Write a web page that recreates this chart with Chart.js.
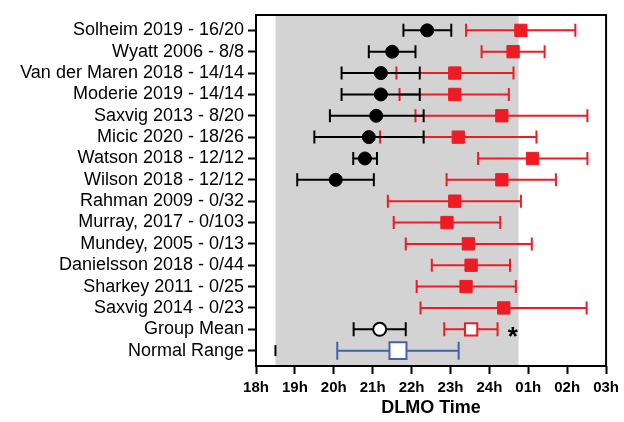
<!DOCTYPE html>
<html>
<head>
<meta charset="utf-8">
<script src="https://cdn.jsdelivr.net/npm/chart.js@4.4.0/dist/chart.umd.min.js"></script>
<style>
  html, body { margin: 0; padding: 0; background: #ffffff; }
  #wrap { width: 624px; height: 422px; }
</style>
</head>
<body>
<div id="wrap"><canvas id="c" width="624" height="422"></canvas></div>
<script>
// ---------- data ----------
const rowLabels = [
  'Solheim 2019 - 16/20', 'Wyatt 2006 - 8/8', 'Van der Maren 2018 - 14/14',
  'Moderie 2019 - 14/14', 'Saxvig 2013 - 8/20', 'Micic 2020 - 18/26',
  'Watson 2018 - 12/12', 'Wilson 2018 - 12/12', 'Rahman 2009 - 0/32',
  'Murray, 2017 - 0/103', 'Mundey, 2005 - 0/13', 'Danielsson 2018 - 0/44',
  'Sharkey 2011 - 0/25', 'Saxvig 2014 - 0/23', 'Group Mean', 'Normal Range'
];
const xTickLabels = ['18h', '19h', '20h', '21h', '22h', '23h', '24h', '01h', '02h', '03h'];
const xMin = 18;
const xMax = 27;
const xTitle = 'DLMO Time';

// black circles (rows 1-8)
const studyMean = [22.40, 21.50, 21.21, 21.21, 21.09, 20.90, 20.80, 20.05];
const studyLow  = [21.79, 20.90, 20.20, 20.20, 19.90, 19.50, 20.50, 19.06];
const studyHigh = [23.02, 22.10, 22.21, 22.21, 22.31, 22.31, 21.11, 21.03];

// red squares (rows 1-14)
const condMean = [24.81, 24.61, 23.11, 23.11, 24.32, 23.20, 25.11, 24.32, 23.11, 22.91, 23.46, 23.53, 23.40, 24.37];
const condLow  = [23.40, 23.80, 21.61, 21.69, 22.10, 21.19, 23.71, 22.90, 21.39, 21.54, 21.85, 22.52, 22.13, 22.23];
const condHigh = [26.21, 25.42, 24.62, 24.50, 26.52, 25.21, 26.52, 25.71, 24.81, 24.28, 25.09, 24.53, 24.68, 26.50];

// group means (row 15): [mean, low, high]
const groupStudy = [21.18, 20.51, 21.85];
const groupCond  = [23.53, 22.84, 24.21];
// normal range (row 16): [mean, low, high]
const normalRange = [21.65, 20.09, 23.21];
const normalMarkX = [18.5];
// asterisk next to group mean
const asteriskX = 24.6;
const shadedRange = [18.5, 24.75];

const RED = '#ED1C24';
const BLUE = '#4262AD';
const FONT = "'Liberation Sans', Arial, Helvetica, sans-serif";

// ---------- helpers ----------
const rowOf = (i) => i + 1;
const studyData = studyMean.map((v, i) => ({ x: v, y: rowOf(i) }));
const condData = condMean.map((v, i) => ({ x: v, y: rowOf(i) }));
const groupRow = 15;
const normalRow = 16;

const bgPlugin = {
  id: 'bgAndBars',
  beforeDatasetsDraw(chart) {
    const { ctx, chartArea, scales } = chart;
    const xs = scales.x, ys = scales.y;
    ctx.save();
    // shaded region
    ctx.fillStyle = '#D3D3D3';
    const gx1 = xs.getPixelForValue(shadedRange[0]);
    const gx2 = xs.getPixelForValue(shadedRange[1]);
    ctx.fillRect(gx1, chartArea.top, gx2 - gx1, chartArea.bottom - chartArea.top);
    // error bars
    ctx.lineWidth = 2;
    ctx.lineCap = 'butt';
    const order = chart.data.datasets.slice().filter(d => d.errLow).sort((a, b) => a.errOrder - b.errOrder);
    order.forEach((ds) => {
      ctx.strokeStyle = ds.errColor;
      const half = ds.capHalf;
      ds.data.forEach((pt, i) => {
        const y = ys.getPixelForValue(pt.y);
        const x1 = xs.getPixelForValue(ds.errLow[i]);
        const x2 = xs.getPixelForValue(ds.errHigh[i]);
        ctx.beginPath();
        ctx.moveTo(x1, y); ctx.lineTo(x2, y);
        ctx.moveTo(x1, y - half); ctx.lineTo(x1, y + half);
        ctx.moveTo(x2, y - half); ctx.lineTo(x2, y + half);
        ctx.stroke();
      });
    });
    ctx.restore();
  },
  afterDatasetsDraw(chart) {
    const { ctx, chartArea, scales } = chart;
    ctx.save();
    // frame
    ctx.strokeStyle = '#000';
    ctx.lineWidth = 2;
    ctx.strokeRect(chartArea.left, chartArea.top, chartArea.right - chartArea.left, chartArea.bottom - chartArea.top);
    // asterisk
    ctx.fillStyle = '#000';
    ctx.font = 'bold 26px ' + FONT;
    ctx.textAlign = 'center';
    ctx.textBaseline = 'alphabetic';
    ctx.fillText('*', scales.x.getPixelForValue(asteriskX), scales.y.getPixelForValue(groupRow) + 16);
    ctx.restore();
  }
};

new Chart(document.getElementById('c'), {
  type: 'scatter',
  data: {
    datasets: [
      {
        label: 'study', data: studyData,
        errLow: studyLow, errHigh: studyHigh, errColor: '#000', capHalf: 6.5, errOrder: 2,
        pointStyle: 'circle', pointRadius: 6.5, backgroundColor: '#000', borderColor: '#000', borderWidth: 1
      },
      {
        label: 'cond', data: condData,
        errLow: condLow, errHigh: condHigh, errColor: RED, capHalf: 6.5, errOrder: 1,
        pointStyle: 'rect', pointRadius: 8.7, backgroundColor: RED, borderColor: RED, borderWidth: 1
      },
      {
        label: 'groupStudy', data: [{ x: groupStudy[0], y: groupRow }],
        errLow: [groupStudy[1]], errHigh: [groupStudy[2]], errColor: '#000', capHalf: 7, errOrder: 3,
        pointStyle: 'circle', pointRadius: 6.5, backgroundColor: '#fff', borderColor: '#000', borderWidth: 2
      },
      {
        label: 'groupCond', data: [{ x: groupCond[0], y: groupRow }],
        errLow: [groupCond[1]], errHigh: [groupCond[2]], errColor: RED, capHalf: 7, errOrder: 3,
        pointStyle: 'rect', pointRadius: 8.7, backgroundColor: '#fff', borderColor: RED, borderWidth: 2
      },
      {
        label: 'normal', data: [{ x: normalRange[0], y: normalRow }],
        errLow: [normalRange[1]], errHigh: [normalRange[2]], errColor: BLUE, capHalf: 9, errOrder: 4,
        pointStyle: 'rect', pointRadius: 12, backgroundColor: '#fff', borderColor: BLUE, borderWidth: 2
      },
      {
        label: 'mark', data: normalMarkX.map(v => ({ x: v, y: normalRow })),
        pointStyle: 'line', rotation: 90, pointRadius: 5.5, backgroundColor: '#000', borderColor: '#000', borderWidth: 2
      }
    ]
  },
  options: {
    responsive: false,
    animation: false,
    events: [],
    layout: { padding: { top: 15, right: 16, left: 0, bottom: 0 } },
    plugins: { legend: { display: false }, tooltip: { enabled: false } },
    scales: {
      x: {
        type: 'linear', min: xMin, max: xMax,
        afterFit(scale) { scale.height = 56; },
        afterBuildTicks(scale) { scale.ticks = xTickLabels.map((_, i) => ({ value: xMin + i })); },
        ticks: {
          autoSkip: false, maxRotation: 0, padding: 5, color: '#000',
          font: { family: FONT, size: 15, weight: 'bold' },
          callback: (v) => xTickLabels[Math.round(v - xMin)]
        },
        grid: { drawOnChartArea: false, drawTicks: true, tickLength: 8, tickWidth: 2, tickColor: '#000' },
        border: { display: false },
        title: {
          display: true, text: xTitle, color: '#000',
          font: { family: FONT, size: 18, weight: 'bold' },
          padding: { top: 0, bottom: 3 }
        }
      },
      y: {
        type: 'linear', reverse: true, min: 0.28, max: 16.72,
        afterFit(scale) { scale.width = 256; },
        afterBuildTicks(scale) { scale.ticks = rowLabels.map((_, i) => ({ value: i + 1 })); },
        ticks: {
          autoSkip: false, padding: 4, color: '#000',
          font: { family: FONT, size: 18 },
          callback: (v) => rowLabels[Math.round(v) - 1]
        },
        grid: { drawOnChartArea: false, drawTicks: true, tickLength: 8, tickWidth: 2, tickColor: '#000' },
        border: { display: false }
      }
    }
  },
  plugins: [bgPlugin]
});
</script>
</body>
</html>
